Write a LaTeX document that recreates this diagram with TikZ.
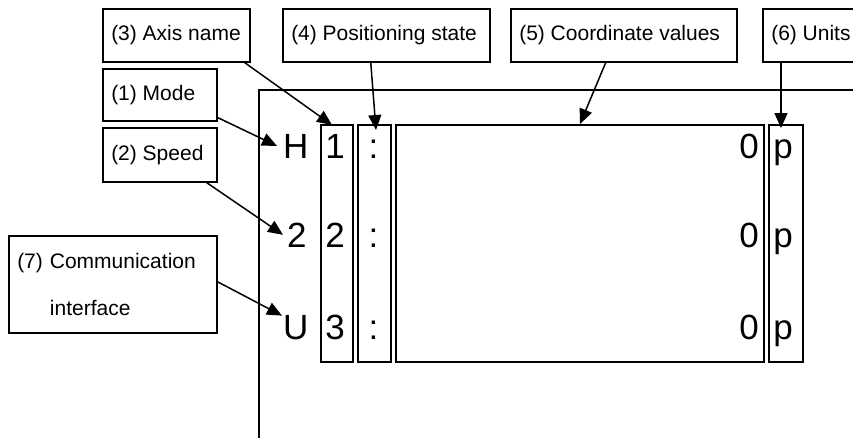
\documentclass[tikz,border=0pt]{standalone}
\usepackage{fontspec}
\setmainfont{Liberation Sans}
\usetikzlibrary{arrows.meta}

\tikzset{
  labelbox/.style={draw, line width=1.5pt, anchor=north west, inner xsep=8.5pt,
    inner ysep=0pt, font=\fontsize{21}{25}\selectfont,
    text height=15pt, text depth=4pt},
  colbox/.style={draw, line width=2pt, anchor=north west, inner sep=0pt},
  bigchar/.style={inner sep=0pt, font=\fontsize{35}{40}\selectfont},
  frameline/.style={line width=1.4pt},
  callout/.style={line width=1.5pt, -{Triangle[length=15pt, width=13pt]}},
}
% left-aligned label text in a field of fixed width
\newcommand{\labeltext}[2]{\makebox[#1][l]{#2}}

\begin{document}
\begin{tikzpicture}[x=1pt, y=-1pt]
  \useasboundingbox (0,0) rectangle (853,437);
  \fill[white] (0,0) rectangle (853,437);
  \clip (0,0) rectangle (853,437);

  % display frame, open towards the right and the bottom
  \draw[frameline] (259,450) -- (259,90) -- (870,90);

  % display columns
  \node[colbox, minimum width=32pt,  minimum height=237pt] (col1) at (320,124) {};
  \node[colbox, minimum width=33pt,  minimum height=237pt] (col2) at (357,124) {};
  \node[colbox, minimum width=368pt, minimum height=237pt] (col3) at (395,124) {};
  \node[colbox, minimum width=34pt,  minimum height=237pt] (col4) at (768,124) {};

  % row characters: mode / speed / interface
  \node[bigchar, anchor=base west] (modeH)  at (283,158) {H};
  \node[bigchar, anchor=base west] (speed2) at (287,247) {2};
  \node[bigchar, anchor=base west] (commU)  at (283,339) {U};

  % axis names
  \node[bigchar, anchor=base] (ax1) at (335,158) {1};
  \node[bigchar, anchor=base] (ax2) at (335,247) {2};
  \node[bigchar, anchor=base] (ax3) at (335,339) {3};

  % positioning state
  \node[bigchar, anchor=base] (st1) at (373.5,158) {:};
  \node[bigchar, anchor=base] (st2) at (373.5,247) {:};
  \node[bigchar, anchor=base] (st3) at (373.5,339) {:};

  % coordinate values
  \node[bigchar, anchor=base east] (val1) at (759,158) {0};
  \node[bigchar, anchor=base east] (val2) at (759,247) {0};
  \node[bigchar, anchor=base east] (val3) at (759,339) {0};

  % units
  \node[bigchar, anchor=base] (unit1) at (783,158) {p};
  \node[bigchar, anchor=base] (unit2) at (783,247) {p};
  \node[bigchar, anchor=base] (unit3) at (783,339) {p};

  % callout boxes
  \node[labelbox, minimum width=147pt, minimum height=53pt] (axisname) at (102,8) {\labeltext{130pt}{(3) Axis name}};
  \node[labelbox, minimum width=207pt, minimum height=53pt] (posstate) at (282,8) {\labeltext{190pt}{(4) Positioning state}};
  \node[labelbox, minimum width=226pt, minimum height=53pt] (coordlab) at (510,8) {\labeltext{209pt}{(5) Coordinate values}};
  \node[labelbox, minimum width=110pt, minimum height=53pt] (unitslab) at (762,8) {\labeltext{93pt}{(6) Units}};
  \node[labelbox, minimum width=114pt, minimum height=52pt] (mode) at (102,68) {\labeltext{97pt}{(1) Mode}};
  \node[labelbox, minimum width=114pt, minimum height=54pt] (speed) at (102,127) {\labeltext{97pt}{(2) Speed}};
  \node[labelbox, minimum width=208pt, minimum height=97pt, text width=191pt, align=left,
        text height=, text depth=, font=\fontsize{21}{47}\selectfont] (comm) at (8,235)
        {(7) Communication\\\hphantom{(7) }interface};

  % callout arrows
  \draw[callout] ([xshift=-6pt]axisname.south east) -- ([xshift=12pt, yshift=-1pt]col1.north west);
  \draw[callout] ([xshift=-15.5pt]posstate.south) -- ([xshift=1.5pt, yshift=-6pt]col2.north);
  \draw[callout] ([xshift=-18pt]coordlab.south) -- ([xshift=185pt]col3.north west);
  \draw[callout] ([xshift=19pt]unitslab.south west) -- ([xshift=13pt, yshift=-4pt]col4.north west);
  \draw[callout] ([yshift=4pt]mode.south east) -- ([xshift=-6pt]modeH.west);
  \draw[callout] ([xshift=-11pt]speed.south east) -- ([xshift=-4pt]speed2.west);
  \draw[callout] ([yshift=2.5pt]comm.east) -- ([xshift=-1pt, yshift=11.5pt]commU.west);
\end{tikzpicture}
\end{document}
